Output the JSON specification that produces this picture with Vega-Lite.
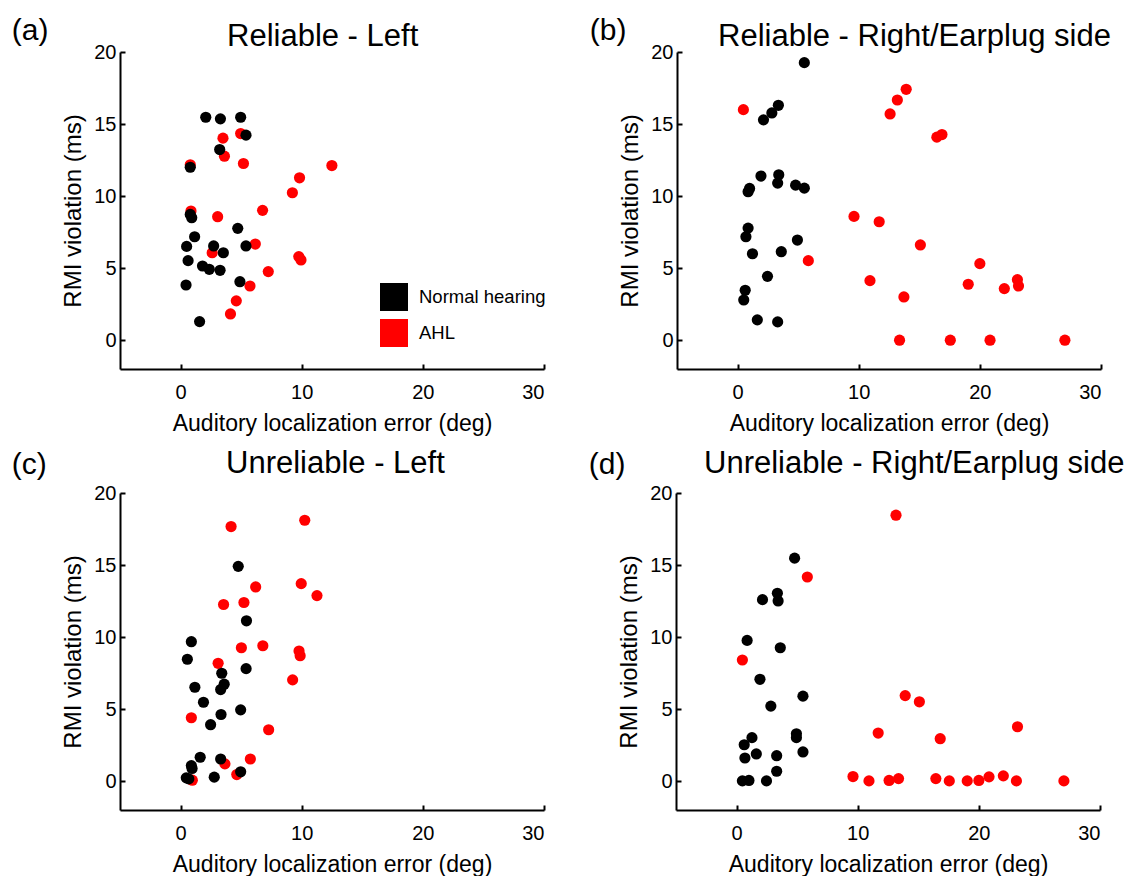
{
  "$schema": "https://vega.github.io/schema/vega-lite/v6.json",
  "padding": {"left": 11, "top": 16, "right": 0, "bottom": 0},
  "config": {
    "font": "Liberation Sans",
    "view": {"stroke": null},
    "axis": {"domainColor": "black", "domainWidth": 2, "tickColor": "black", "tickWidth": 2, "tickSize": -5, "labelFontSize": 20, "labelColor": "black", "titleFontSize": 23, "titleFontWeight": "normal", "titleColor": "black", "grid": false},
    "axisX": {"labelPadding": 18, "titlePadding": 10},
    "axisY": {"titleFontSize": 24, "labelPadding": 9, "titlePadding": 8},
    "title": {"fontSize": 31, "fontWeight": "normal", "color": "black"}
  },
  "datasets": {
    "pts": [
      {"panel": "a", "group": "AHL", "err": 0.80, "rmi": 12.17},
      {"panel": "a", "group": "AHL", "err": 3.50, "rmi": 14.02},
      {"panel": "a", "group": "AHL", "err": 3.62, "rmi": 12.77},
      {"panel": "a", "group": "AHL", "err": 4.96, "rmi": 14.34},
      {"panel": "a", "group": "AHL", "err": 5.19, "rmi": 12.26},
      {"panel": "a", "group": "AHL", "err": 12.49, "rmi": 12.12},
      {"panel": "a", "group": "AHL", "err": 9.82, "rmi": 11.27},
      {"panel": "a", "group": "AHL", "err": 9.23, "rmi": 10.23},
      {"panel": "a", "group": "AHL", "err": 0.86, "rmi": 8.96},
      {"panel": "a", "group": "AHL", "err": 3.06, "rmi": 8.57},
      {"panel": "a", "group": "AHL", "err": 6.77, "rmi": 9.01},
      {"panel": "a", "group": "AHL", "err": 2.61, "rmi": 6.07},
      {"panel": "a", "group": "AHL", "err": 6.17, "rmi": 6.67},
      {"panel": "a", "group": "AHL", "err": 9.76, "rmi": 5.80},
      {"panel": "a", "group": "AHL", "err": 9.94, "rmi": 5.57},
      {"panel": "a", "group": "AHL", "err": 7.24, "rmi": 4.76},
      {"panel": "a", "group": "AHL", "err": 5.73, "rmi": 3.76},
      {"panel": "a", "group": "AHL", "err": 4.60, "rmi": 2.73},
      {"panel": "a", "group": "AHL", "err": 4.12, "rmi": 1.82},
      {"panel": "a", "group": "Normal hearing", "err": 2.08, "rmi": 15.47},
      {"panel": "a", "group": "Normal hearing", "err": 3.29, "rmi": 15.36},
      {"panel": "a", "group": "Normal hearing", "err": 4.96, "rmi": 15.47},
      {"panel": "a", "group": "Normal hearing", "err": 5.40, "rmi": 14.23},
      {"panel": "a", "group": "Normal hearing", "err": 3.23, "rmi": 13.23},
      {"panel": "a", "group": "Normal hearing", "err": 0.80, "rmi": 12.00},
      {"panel": "a", "group": "Normal hearing", "err": 0.80, "rmi": 8.73},
      {"panel": "a", "group": "Normal hearing", "err": 0.92, "rmi": 8.50},
      {"panel": "a", "group": "Normal hearing", "err": 1.16, "rmi": 7.18},
      {"panel": "a", "group": "Normal hearing", "err": 4.72, "rmi": 7.76},
      {"panel": "a", "group": "Normal hearing", "err": 0.50, "rmi": 6.51},
      {"panel": "a", "group": "Normal hearing", "err": 2.73, "rmi": 6.54},
      {"panel": "a", "group": "Normal hearing", "err": 3.53, "rmi": 6.07},
      {"panel": "a", "group": "Normal hearing", "err": 5.40, "rmi": 6.54},
      {"panel": "a", "group": "Normal hearing", "err": 0.62, "rmi": 5.52},
      {"panel": "a", "group": "Normal hearing", "err": 1.81, "rmi": 5.15},
      {"panel": "a", "group": "Normal hearing", "err": 2.37, "rmi": 4.92},
      {"panel": "a", "group": "Normal hearing", "err": 3.26, "rmi": 4.85},
      {"panel": "a", "group": "Normal hearing", "err": 4.90, "rmi": 4.06},
      {"panel": "a", "group": "Normal hearing", "err": 0.45, "rmi": 3.83},
      {"panel": "a", "group": "Normal hearing", "err": 1.57, "rmi": 1.29},

      {"panel": "b", "group": "AHL", "err": 0.48, "rmi": 16.00},
      {"panel": "b", "group": "AHL", "err": 5.84, "rmi": 5.52},
      {"panel": "b", "group": "AHL", "err": 9.61, "rmi": 8.59},
      {"panel": "b", "group": "AHL", "err": 11.69, "rmi": 8.22},
      {"panel": "b", "group": "AHL", "err": 12.59, "rmi": 15.70},
      {"panel": "b", "group": "AHL", "err": 13.19, "rmi": 16.67},
      {"panel": "b", "group": "AHL", "err": 13.92, "rmi": 17.41},
      {"panel": "b", "group": "AHL", "err": 16.45, "rmi": 14.09},
      {"panel": "b", "group": "AHL", "err": 16.87, "rmi": 14.27},
      {"panel": "b", "group": "AHL", "err": 15.09, "rmi": 6.61},
      {"panel": "b", "group": "AHL", "err": 10.93, "rmi": 4.13},
      {"panel": "b", "group": "AHL", "err": 13.73, "rmi": 3.00},
      {"panel": "b", "group": "AHL", "err": 13.37, "rmi": 0.00},
      {"panel": "b", "group": "AHL", "err": 17.56, "rmi": 0.00},
      {"panel": "b", "group": "AHL", "err": 20.84, "rmi": 0.00},
      {"panel": "b", "group": "AHL", "err": 27.02, "rmi": 0.00},
      {"panel": "b", "group": "AHL", "err": 20.00, "rmi": 5.31},
      {"panel": "b", "group": "AHL", "err": 19.04, "rmi": 3.88},
      {"panel": "b", "group": "AHL", "err": 22.02, "rmi": 3.58},
      {"panel": "b", "group": "AHL", "err": 23.10, "rmi": 4.20},
      {"panel": "b", "group": "AHL", "err": 23.19, "rmi": 3.76},
      {"panel": "b", "group": "Normal hearing", "err": 5.51, "rmi": 19.26},
      {"panel": "b", "group": "Normal hearing", "err": 3.37, "rmi": 16.30},
      {"panel": "b", "group": "Normal hearing", "err": 2.83, "rmi": 15.77},
      {"panel": "b", "group": "Normal hearing", "err": 2.14, "rmi": 15.29},
      {"panel": "b", "group": "Normal hearing", "err": 1.93, "rmi": 11.39},
      {"panel": "b", "group": "Normal hearing", "err": 3.40, "rmi": 11.48},
      {"panel": "b", "group": "Normal hearing", "err": 3.31, "rmi": 10.90},
      {"panel": "b", "group": "Normal hearing", "err": 0.99, "rmi": 10.53},
      {"panel": "b", "group": "Normal hearing", "err": 0.87, "rmi": 10.30},
      {"panel": "b", "group": "Normal hearing", "err": 4.79, "rmi": 10.76},
      {"panel": "b", "group": "Normal hearing", "err": 5.51, "rmi": 10.55},
      {"panel": "b", "group": "Normal hearing", "err": 0.87, "rmi": 7.78},
      {"panel": "b", "group": "Normal hearing", "err": 0.69, "rmi": 7.18},
      {"panel": "b", "group": "Normal hearing", "err": 1.23, "rmi": 6.00},
      {"panel": "b", "group": "Normal hearing", "err": 3.61, "rmi": 6.14},
      {"panel": "b", "group": "Normal hearing", "err": 4.94, "rmi": 6.95},
      {"panel": "b", "group": "Normal hearing", "err": 2.47, "rmi": 4.43},
      {"panel": "b", "group": "Normal hearing", "err": 0.63, "rmi": 3.46},
      {"panel": "b", "group": "Normal hearing", "err": 0.51, "rmi": 2.79},
      {"panel": "b", "group": "Normal hearing", "err": 1.63, "rmi": 1.41},
      {"panel": "b", "group": "Normal hearing", "err": 3.31, "rmi": 1.27},

      {"panel": "c", "group": "AHL", "err": 4.17, "rmi": 17.67},
      {"panel": "c", "group": "AHL", "err": 10.25, "rmi": 18.11},
      {"panel": "c", "group": "AHL", "err": 6.20, "rmi": 13.48},
      {"panel": "c", "group": "AHL", "err": 9.96, "rmi": 13.71},
      {"panel": "c", "group": "AHL", "err": 11.26, "rmi": 12.88},
      {"panel": "c", "group": "AHL", "err": 3.55, "rmi": 12.26},
      {"panel": "c", "group": "AHL", "err": 5.23, "rmi": 12.40},
      {"panel": "c", "group": "AHL", "err": 5.02, "rmi": 9.26},
      {"panel": "c", "group": "AHL", "err": 6.79, "rmi": 9.40},
      {"panel": "c", "group": "AHL", "err": 9.78, "rmi": 9.03},
      {"panel": "c", "group": "AHL", "err": 9.87, "rmi": 8.71},
      {"panel": "c", "group": "AHL", "err": 3.10, "rmi": 8.18},
      {"panel": "c", "group": "AHL", "err": 9.25, "rmi": 7.03},
      {"panel": "c", "group": "AHL", "err": 0.89, "rmi": 4.40},
      {"panel": "c", "group": "AHL", "err": 7.27, "rmi": 3.57},
      {"panel": "c", "group": "AHL", "err": 5.76, "rmi": 1.54},
      {"panel": "c", "group": "AHL", "err": 3.66, "rmi": 1.20},
      {"panel": "c", "group": "AHL", "err": 4.64, "rmi": 0.46},
      {"panel": "c", "group": "AHL", "err": 0.97, "rmi": 0.07},
      {"panel": "c", "group": "Normal hearing", "err": 4.76, "rmi": 14.91},
      {"panel": "c", "group": "Normal hearing", "err": 5.44, "rmi": 11.13},
      {"panel": "c", "group": "Normal hearing", "err": 0.89, "rmi": 9.68},
      {"panel": "c", "group": "Normal hearing", "err": 0.56, "rmi": 8.46},
      {"panel": "c", "group": "Normal hearing", "err": 5.41, "rmi": 7.81},
      {"panel": "c", "group": "Normal hearing", "err": 3.40, "rmi": 7.49},
      {"panel": "c", "group": "Normal hearing", "err": 3.60, "rmi": 6.73},
      {"panel": "c", "group": "Normal hearing", "err": 3.31, "rmi": 6.36},
      {"panel": "c", "group": "Normal hearing", "err": 1.18, "rmi": 6.52},
      {"panel": "c", "group": "Normal hearing", "err": 1.89, "rmi": 5.48},
      {"panel": "c", "group": "Normal hearing", "err": 3.34, "rmi": 4.63},
      {"panel": "c", "group": "Normal hearing", "err": 4.96, "rmi": 4.95},
      {"panel": "c", "group": "Normal hearing", "err": 2.48, "rmi": 3.92},
      {"panel": "c", "group": "Normal hearing", "err": 1.62, "rmi": 1.66},
      {"panel": "c", "group": "Normal hearing", "err": 3.31, "rmi": 1.54},
      {"panel": "c", "group": "Normal hearing", "err": 0.89, "rmi": 1.08},
      {"panel": "c", "group": "Normal hearing", "err": 0.95, "rmi": 0.88},
      {"panel": "c", "group": "Normal hearing", "err": 4.96, "rmi": 0.65},
      {"panel": "c", "group": "Normal hearing", "err": 0.47, "rmi": 0.23},
      {"panel": "c", "group": "Normal hearing", "err": 0.68, "rmi": 0.16},
      {"panel": "c", "group": "Normal hearing", "err": 2.78, "rmi": 0.28},

      {"panel": "d", "group": "AHL", "err": 13.16, "rmi": 18.46},
      {"panel": "d", "group": "AHL", "err": 5.84, "rmi": 14.17},
      {"panel": "d", "group": "AHL", "err": 0.48, "rmi": 8.41},
      {"panel": "d", "group": "AHL", "err": 13.92, "rmi": 5.94},
      {"panel": "d", "group": "AHL", "err": 15.09, "rmi": 5.51},
      {"panel": "d", "group": "AHL", "err": 11.69, "rmi": 3.34},
      {"panel": "d", "group": "AHL", "err": 16.81, "rmi": 2.95},
      {"panel": "d", "group": "AHL", "err": 23.19, "rmi": 3.78},
      {"panel": "d", "group": "AHL", "err": 9.61, "rmi": 0.32},
      {"panel": "d", "group": "AHL", "err": 10.93, "rmi": 0.02},
      {"panel": "d", "group": "AHL", "err": 12.59, "rmi": 0.05},
      {"panel": "d", "group": "AHL", "err": 13.37, "rmi": 0.18},
      {"panel": "d", "group": "AHL", "err": 16.45, "rmi": 0.18},
      {"panel": "d", "group": "AHL", "err": 17.56, "rmi": 0.02},
      {"panel": "d", "group": "AHL", "err": 19.04, "rmi": 0.02},
      {"panel": "d", "group": "AHL", "err": 20.00, "rmi": 0.05},
      {"panel": "d", "group": "AHL", "err": 20.84, "rmi": 0.30},
      {"panel": "d", "group": "AHL", "err": 22.02, "rmi": 0.37},
      {"panel": "d", "group": "AHL", "err": 23.10, "rmi": 0.02},
      {"panel": "d", "group": "AHL", "err": 27.02, "rmi": 0.02},
      {"panel": "d", "group": "Normal hearing", "err": 4.79, "rmi": 15.48},
      {"panel": "d", "group": "Normal hearing", "err": 3.37, "rmi": 13.04},
      {"panel": "d", "group": "Normal hearing", "err": 3.43, "rmi": 12.51},
      {"panel": "d", "group": "Normal hearing", "err": 2.14, "rmi": 12.60},
      {"panel": "d", "group": "Normal hearing", "err": 0.87, "rmi": 9.77},
      {"panel": "d", "group": "Normal hearing", "err": 3.61, "rmi": 9.26},
      {"panel": "d", "group": "Normal hearing", "err": 1.93, "rmi": 7.07},
      {"panel": "d", "group": "Normal hearing", "err": 5.48, "rmi": 5.90},
      {"panel": "d", "group": "Normal hearing", "err": 2.83, "rmi": 5.21},
      {"panel": "d", "group": "Normal hearing", "err": 1.27, "rmi": 3.02},
      {"panel": "d", "group": "Normal hearing", "err": 0.63, "rmi": 2.53},
      {"panel": "d", "group": "Normal hearing", "err": 4.94, "rmi": 3.29},
      {"panel": "d", "group": "Normal hearing", "err": 4.94, "rmi": 3.02},
      {"panel": "d", "group": "Normal hearing", "err": 5.48, "rmi": 2.03},
      {"panel": "d", "group": "Normal hearing", "err": 0.69, "rmi": 1.61},
      {"panel": "d", "group": "Normal hearing", "err": 1.63, "rmi": 1.89},
      {"panel": "d", "group": "Normal hearing", "err": 3.31, "rmi": 1.77},
      {"panel": "d", "group": "Normal hearing", "err": 3.31, "rmi": 0.69},
      {"panel": "d", "group": "Normal hearing", "err": 0.48, "rmi": 0.02},
      {"panel": "d", "group": "Normal hearing", "err": 1.02, "rmi": 0.05},
      {"panel": "d", "group": "Normal hearing", "err": 2.47, "rmi": 0.02}
    ]
  },
  "spacing": 13,
  "resolve": {"scale": {"color": "independent"}, "legend": {"color": "independent"}},
  "vconcat": [
    {
      "spacing": 43,
      "resolve": {"scale": {"color": "independent"}, "legend": {"color": "independent"}},
      "hconcat": [
        {
          "title": {"text": "(a)", "anchor": "start", "fontSize": 30, "dx": -50, "offset": -25},
          "resolve": {"scale": {"color": "independent"}, "legend": {"color": "independent"}},
          "vconcat": [
            {
              "width": 424, "height": 317,
              "title": {"text": "Reliable - Left", "anchor": "start", "frame": "group", "dx": 107, "offset": -11},
              "data": {"name": "pts"},
              "transform": [{"filter": "datum.panel === 'a'"}],
              "mark": {"type": "point", "filled": true, "size": 125, "opacity": 1, "strokeWidth": 0},
              "encoding": {
                "x": {"field": "err", "type": "quantitative", "scale": {"domain": [-5, 30], "nice": false, "zero": false}, "axis": {"values": [0, 10, 20, 30], "title": "Auditory localization error (deg)"}},
                "y": {"field": "rmi", "type": "quantitative", "scale": {"domain": [-2, 20], "nice": false, "zero": false}, "axis": {"values": [0, 5, 10, 15, 20], "title": "RMI violation (ms)"}},
                "color": {"field": "group", "type": "nominal", "scale": {"domain": ["Normal hearing", "AHL"], "range": ["#000000", "#ff0000"]},
                  "legend": {"title": null, "orient": "none", "legendX": 260, "legendY": 231, "symbolType": "square", "symbolSize": 784, "symbolStrokeWidth": 0, "symbolOpacity": 1, "labelFontSize": 18.5, "labelOffset": 11, "rowPadding": 8, "padding": 0, "labelColor": "black"}}
              }
            }
          ]
        },
        {
          "title": {"text": "(b)", "anchor": "start", "fontSize": 30, "dx": -29, "offset": -25},
          "resolve": {"scale": {"color": "independent"}, "legend": {"color": "independent"}},
          "vconcat": [
            {
              "width": 424, "height": 317,
              "title": {"text": "Reliable - Right/Earplug side", "anchor": "start", "frame": "group", "dx": 41, "offset": -11},
              "data": {"name": "pts"},
              "transform": [{"filter": "datum.panel === 'b'"}],
              "mark": {"type": "point", "filled": true, "size": 125, "opacity": 1, "strokeWidth": 0},
              "encoding": {
                "x": {"field": "err", "type": "quantitative", "scale": {"domain": [-5, 30], "nice": false, "zero": false}, "axis": {"values": [0, 10, 20, 30], "title": "Auditory localization error (deg)"}},
                "y": {"field": "rmi", "type": "quantitative", "scale": {"domain": [-2, 20], "nice": false, "zero": false}, "axis": {"values": [0, 5, 10, 15, 20], "title": "RMI violation (ms)"}},
                "color": {"field": "group", "type": "nominal", "scale": {"domain": ["Normal hearing", "AHL"], "range": ["#000000", "#ff0000"]}, "legend": null}
              }
            }
          ]
        }
      ]
    },
    {
      "spacing": 43,
      "resolve": {"scale": {"color": "independent"}, "legend": {"color": "independent"}},
      "hconcat": [
        {
          "title": {"text": "(c)", "anchor": "start", "fontSize": 30, "dx": -50, "offset": -32},
          "resolve": {"scale": {"color": "independent"}, "legend": {"color": "independent"}},
          "vconcat": [
            {
              "width": 424, "height": 317,
              "title": {"text": "Unreliable - Left", "anchor": "start", "frame": "group", "dx": 106, "offset": 3},
              "data": {"name": "pts"},
              "transform": [{"filter": "datum.panel === 'c'"}],
              "mark": {"type": "point", "filled": true, "size": 125, "opacity": 1, "strokeWidth": 0},
              "encoding": {
                "x": {"field": "err", "type": "quantitative", "scale": {"domain": [-5, 30], "nice": false, "zero": false}, "axis": {"values": [0, 10, 20, 30], "title": "Auditory localization error (deg)"}},
                "y": {"field": "rmi", "type": "quantitative", "scale": {"domain": [-2, 20], "nice": false, "zero": false}, "axis": {"values": [0, 5, 10, 15, 20], "title": "RMI violation (ms)"}},
                "color": {"field": "group", "type": "nominal", "scale": {"domain": ["Normal hearing", "AHL"], "range": ["#000000", "#ff0000"]}, "legend": null}
              }
            }
          ]
        },
        {
          "title": {"text": "(d)", "anchor": "start", "fontSize": 30, "dx": -29, "offset": -32},
          "resolve": {"scale": {"color": "independent"}, "legend": {"color": "independent"}},
          "vconcat": [
            {
              "width": 424, "height": 317,
              "title": {"text": "Unreliable - Right/Earplug side", "anchor": "start", "frame": "group", "dx": 28, "offset": 3},
              "data": {"name": "pts"},
              "transform": [{"filter": "datum.panel === 'd'"}],
              "mark": {"type": "point", "filled": true, "size": 125, "opacity": 1, "strokeWidth": 0},
              "encoding": {
                "x": {"field": "err", "type": "quantitative", "scale": {"domain": [-5, 30], "nice": false, "zero": false}, "axis": {"values": [0, 10, 20, 30], "title": "Auditory localization error (deg)"}},
                "y": {"field": "rmi", "type": "quantitative", "scale": {"domain": [-2, 20], "nice": false, "zero": false}, "axis": {"values": [0, 5, 10, 15, 20], "title": "RMI violation (ms)"}},
                "color": {"field": "group", "type": "nominal", "scale": {"domain": ["Normal hearing", "AHL"], "range": ["#000000", "#ff0000"]}, "legend": null}
              }
            }
          ]
        }
      ]
    }
  ]
}
